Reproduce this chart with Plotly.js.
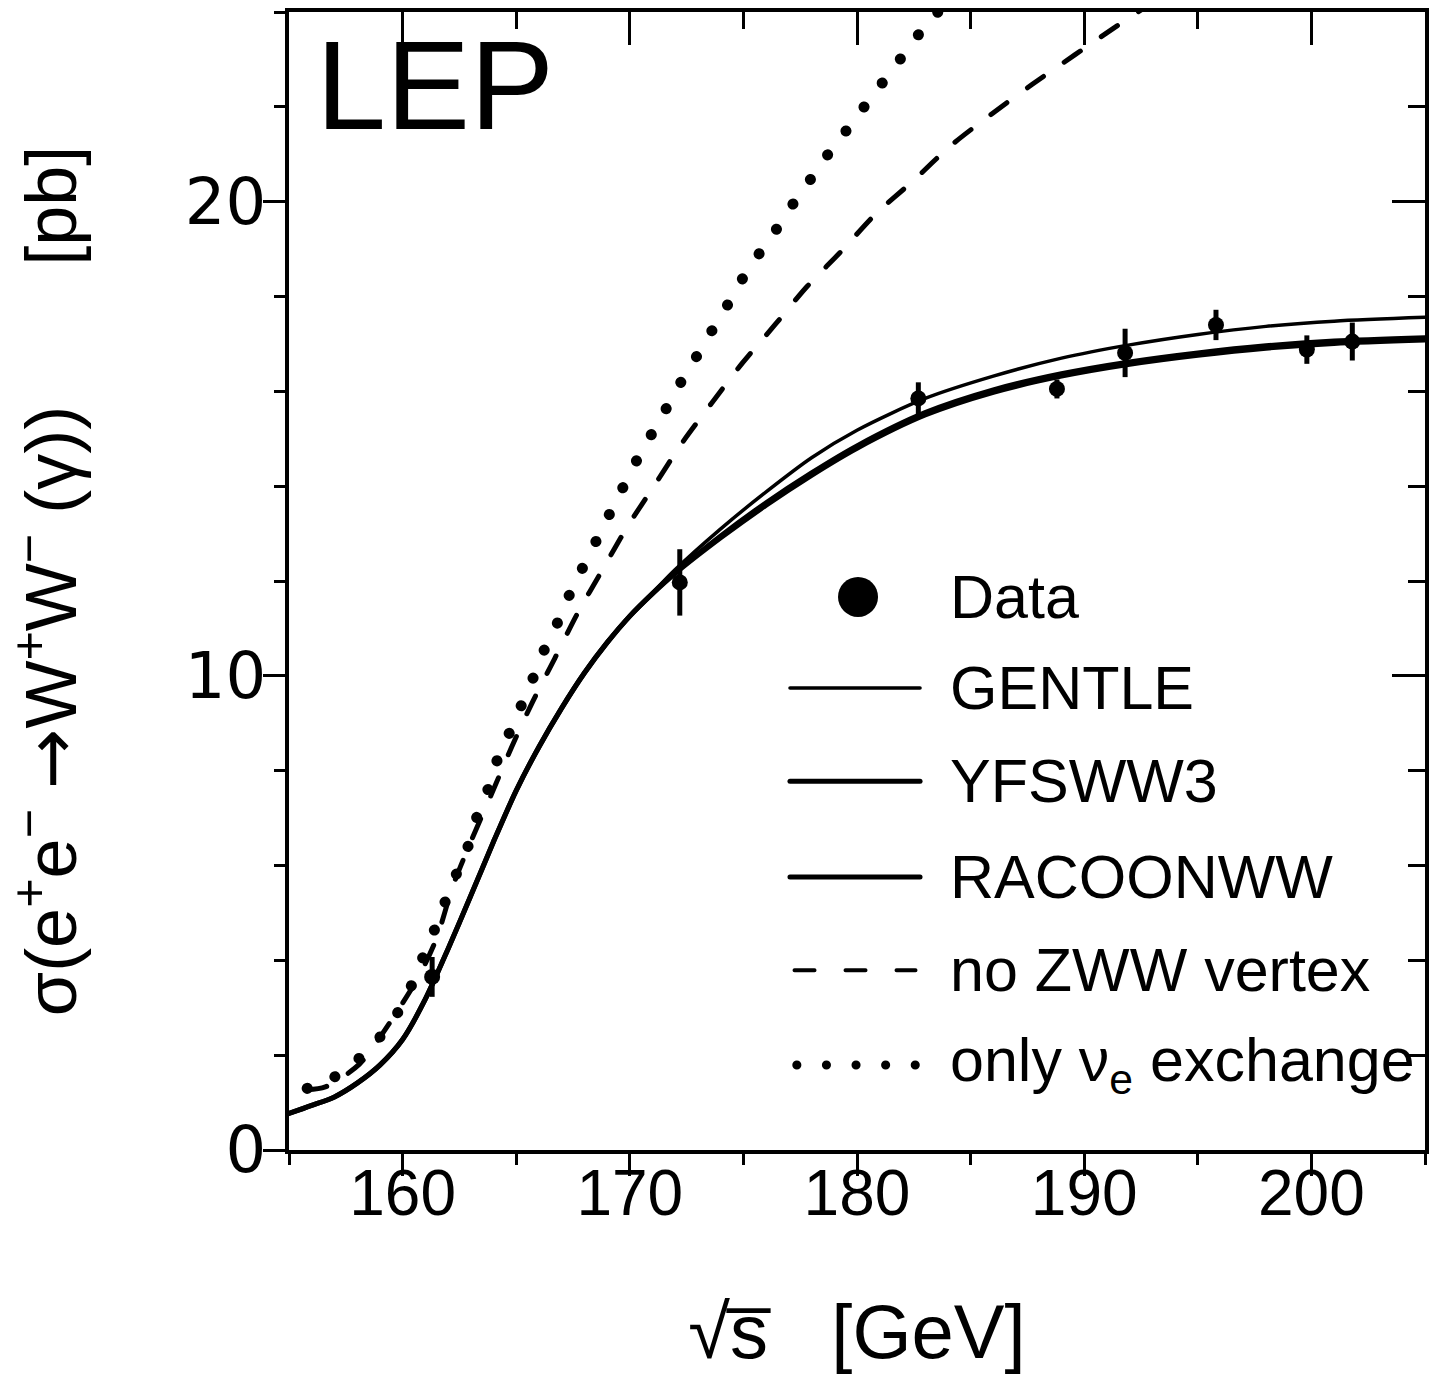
<!DOCTYPE html>
<html>
<head>
<meta charset="utf-8">
<script src="https://cdn.plot.ly/plotly-3.0.1.min.js"></script>
<style>
  html, body { margin: 0; padding: 0; background: #fff; }
  #chart { width: 1445px; height: 1374px; }
  .scatterlayer .js-line { stroke-linecap: round; stroke-linejoin: round; }
  .shapelayer path { stroke-linecap: round; }
</style>
</head>
<body>
<div id="chart"></div>
<script>
// ---- Data ----
const dataEnergy = [161.3, 172.2, 182.7, 188.8, 191.8, 195.8, 199.8, 201.8];
const dataSigma  = [3.65, 11.97, 15.85, 16.05, 16.81, 17.40, 16.88, 17.05];
const dataError  = [0.42, 0.70, 0.34, 0.20, 0.51, 0.32, 0.30, 0.40];

const theoryEnergy = [155,156,157,158,159,160,161,162,163,164,165,166,167,168,169,170,171,172,174,176,178,180,183,186,189,192,195,198,201,205];
const gentleSigma  = [0.77,0.94,1.12,1.41,1.79,2.33,3.18,4.24,5.36,6.50,7.58,8.50,9.32,10.06,10.70,11.26,11.75,12.24,13.10,13.88,14.60,15.18,15.85,16.32,16.70,16.98,17.20,17.37,17.48,17.56];
const yfswwSigma   = [0.77,0.94,1.12,1.41,1.79,2.33,3.18,4.24,5.36,6.50,7.58,8.50,9.32,10.06,10.70,11.26,11.74,12.18,12.95,13.65,14.28,14.85,15.55,16.03,16.37,16.62,16.81,16.96,17.06,17.13];
const racoonSigma  = [0.77,0.94,1.12,1.41,1.79,2.33,3.18,4.24,5.36,6.50,7.58,8.50,9.32,10.06,10.70,11.26,11.73,12.16,12.91,13.60,14.23,14.80,15.50,15.98,16.32,16.57,16.76,16.91,17.01,17.08];

const noZwwEnergy = [155.8,156.6,158.1,159.4,160.7,161.5,162.2,163.0,163.9,164.8,165.7,166.7,167.7,168.8,169.9,171.1,172.3,173.6,174.96,176.4,177.8,179.3,180.8,182.45,184.1,185.9,187.7,189.6,191.3,193.0];
const noZwwSigma  = [1.27,1.33,1.81,2.66,3.65,4.47,5.55,6.50,7.49,8.50,9.43,10.37,11.32,12.24,13.15,14.03,14.91,15.75,16.60,17.41,18.21,18.95,19.73,20.43,21.17,21.84,22.47,23.10,23.66,24.20];

const nueEnergy = [155.8,157.0,158.1,159.0,159.8,160.4,160.9,161.45,161.9,162.4,162.9,163.3,163.8,164.2,164.76,165.3,165.8,166.3,166.9,167.4,168.0,168.6,169.2,169.8,170.4,171.07,171.76,172.4,173.1,173.8,174.5,175.15,175.9,176.7,177.4,178.2,178.96,179.8,180.6,181.4,182.2,183.0,183.4,184.0];
const nueSigma  = [1.30,1.54,1.94,2.38,2.91,3.48,4.07,4.70,5.27,5.86,6.43,7.07,7.66,8.27,8.86,9.46,10.02,10.62,11.20,11.77,12.35,12.92,13.50,14.07,14.63,15.19,15.77,16.32,16.86,17.43,17.98,18.53,19.04,19.59,20.11,20.63,21.16,21.66,22.19,22.68,23.20,23.70,23.90,24.30];

const legendLabels = ['Data', 'GENTLE', 'YFSWW3', 'RACOONWW', 'no ZWW vertex', 'only \u03bd<sub>e</sub> exchange'];

const xTickVals = [160, 170, 180, 190, 200];
const yTickVals = [0, 10, 20];

// ---- Styling ----
const FONT = '"Liberation Sans", Arial, Helvetica, sans-serif';
const WIDEFONT = '"DejaVu Sans", Verdana, sans-serif';
const BLACK = '#000000';

const traces = [
  { x: theoryEnergy, y: gentleSigma, mode: 'lines', name: 'GENTLE',
    line: { color: BLACK, width: 3.5, shape: 'spline', smoothing: 0.8 }, showlegend: false, hoverinfo: 'skip' },
  { x: theoryEnergy, y: yfswwSigma, mode: 'lines', name: 'YFSWW3',
    line: { color: BLACK, width: 5, shape: 'spline', smoothing: 0.8 }, showlegend: false, hoverinfo: 'skip' },
  { x: theoryEnergy, y: racoonSigma, mode: 'lines', name: 'RACOONWW',
    line: { color: BLACK, width: 5, shape: 'spline', smoothing: 0.8 }, showlegend: false, hoverinfo: 'skip' },
  { x: noZwwEnergy, y: noZwwSigma, mode: 'lines', name: 'no ZWW vertex',
    line: { color: BLACK, width: 5, dash: '20px,25px', shape: 'spline', smoothing: 0.8 }, showlegend: false, hoverinfo: 'skip' },
  { x: nueEnergy, y: nueSigma, mode: 'lines', name: 'only nu_e exchange',
    line: { color: BLACK, width: 11, dash: '0.1px,30px', shape: 'spline', smoothing: 0.8 }, showlegend: false, hoverinfo: 'skip' },
  { x: dataEnergy, y: dataSigma, mode: 'markers', name: 'Data',
    marker: { color: BLACK, size: 16, symbol: 'circle' },
    error_y: { type: 'data', array: dataError, visible: true, color: BLACK, thickness: 5, width: 0 },
    showlegend: false, hoverinfo: 'skip' },
  { x: [], y: [], xaxis: 'x2', yaxis: 'y2', mode: 'markers', showlegend: false, hoverinfo: 'skip' }
];

// Legend positions in paper coordinates
const legRowY = [0.486, 0.406, 0.324, 0.240, 0.158, 0.0747];
const legLineX0 = 0.441, legLineX1 = 0.5555, legTextX = 0.580, legDotX = 0.5009;

const shapes = [
  { type: 'circle', xref: 'paper', yref: 'paper', xsizemode: 'pixel', ysizemode: 'pixel',
    xanchor: legDotX, yanchor: legRowY[0], x0: -20, x1: 20, y0: -20, y1: 20,
    fillcolor: BLACK, line: { color: BLACK, width: 0 } },
  { type: 'line', xref: 'paper', yref: 'paper', x0: legLineX0, x1: legLineX1, y0: legRowY[1], y1: legRowY[1],
    line: { color: BLACK, width: 3.5 } },
  { type: 'line', xref: 'paper', yref: 'paper', x0: legLineX0, x1: legLineX1, y0: legRowY[2], y1: legRowY[2],
    line: { color: BLACK, width: 5 } },
  { type: 'line', xref: 'paper', yref: 'paper', x0: legLineX0, x1: legLineX1, y0: legRowY[3], y1: legRowY[3],
    line: { color: BLACK, width: 5 } },
  { type: 'line', xref: 'paper', yref: 'paper', x0: legLineX0 + 0.004, x1: legLineX1 - 0.004, y0: legRowY[4], y1: legRowY[4],
    line: { color: BLACK, width: 4, dash: '20px,31px' } },
  { type: 'line', xref: 'paper', yref: 'paper', x0: legLineX0 + 0.006, x1: legLineX1, y0: legRowY[5], y1: legRowY[5],
    line: { color: BLACK, width: 9, dash: '0.1px,29.5px' } }
];

const annotations = legendLabels.map((t, i) => ({
  xref: 'paper', yref: 'paper', x: legTextX, y: legRowY[i],
  xanchor: 'left', yanchor: 'middle', text: t, showarrow: false,
  font: { family: FONT, size: 61, color: BLACK }
}));
annotations.push({
  xref: 'paper', yref: 'paper', x: 0.022, y: 0.935, xanchor: 'left', yanchor: 'middle',
  text: 'LEP', showarrow: false, font: { family: FONT, size: 126, color: BLACK }
});

const axisCommon = {
  showgrid: false, zeroline: false, showline: true, linecolor: BLACK, linewidth: 4,
  tickcolor: BLACK, tickwidth: 3, tickfont: { family: FONT, size: 64, color: BLACK }
};

const yTitle = '\u03c3(e<sup>+</sup>e<sup>\u2212</sup> <span style="font-family:DejaVu Sans">\u2192</span>W<sup>+</sup>W<sup>\u2212</sup> (\u03b3))       [pb]';

const layout = {
  width: 1445, height: 1374,
  margin: { l: 289, r: 20, t: 12, b: 224, pad: 0 },
  paper_bgcolor: '#ffffff', plot_bgcolor: '#ffffff',
  font: { family: FONT, color: BLACK },
  showlegend: false,
  xaxis: Object.assign({}, axisCommon, {
    range: [155, 205], tickmode: 'array', tickvals: xTickVals, ticktext: xTickVals.map(String),
    ticks: 'outside', ticklen: 22, ticklabelstandoff: -38,
    minor: { dtick: 5, tick0: 155, ticks: 'outside', ticklen: 11, tickwidth: 3, tickcolor: BLACK },
    title: { text: '\u221As\u0305   [GeV]', font: { family: FONT, size: 76, color: BLACK }, standoff: 78 },
    automargin: false
  }),
  yaxis: Object.assign({}, axisCommon, {
    range: [0, 24], tickmode: 'array', tickvals: yTickVals, ticktext: yTickVals.map(String),
    ticks: 'outside', ticklen: 22, ticklabelstandoff: -16,
    tickfont: { family: WIDEFONT, size: 64, color: BLACK },
    minor: { dtick: 2, tick0: 0, ticks: 'outside', ticklen: 11, tickwidth: 3, tickcolor: BLACK },
    title: { text: yTitle, font: { family: FONT, size: 72, color: BLACK }, standoff: 96 },
    automargin: false
  }),
  xaxis2: Object.assign({}, axisCommon, {
    overlaying: 'x', side: 'top', anchor: 'y2', range: [155, 205],
    tickmode: 'array', tickvals: xTickVals, showticklabels: false,
    ticks: 'inside', ticklen: 33,
    minor: { dtick: 5, tick0: 155, ticks: 'inside', ticklen: 17, tickwidth: 3, tickcolor: BLACK }
  }),
  yaxis2: Object.assign({}, axisCommon, {
    overlaying: 'y', side: 'right', anchor: 'x2', range: [0, 24],
    tickmode: 'array', tickvals: yTickVals, showticklabels: false,
    ticks: 'inside', ticklen: 33,
    minor: { dtick: 2, tick0: 0, ticks: 'inside', ticklen: 17, tickwidth: 3, tickcolor: BLACK }
  }),
  shapes: shapes,
  annotations: annotations
};

Plotly.newPlot('chart', traces, layout, { staticPlot: true, displayModeBar: false });
</script>
</body>
</html>
